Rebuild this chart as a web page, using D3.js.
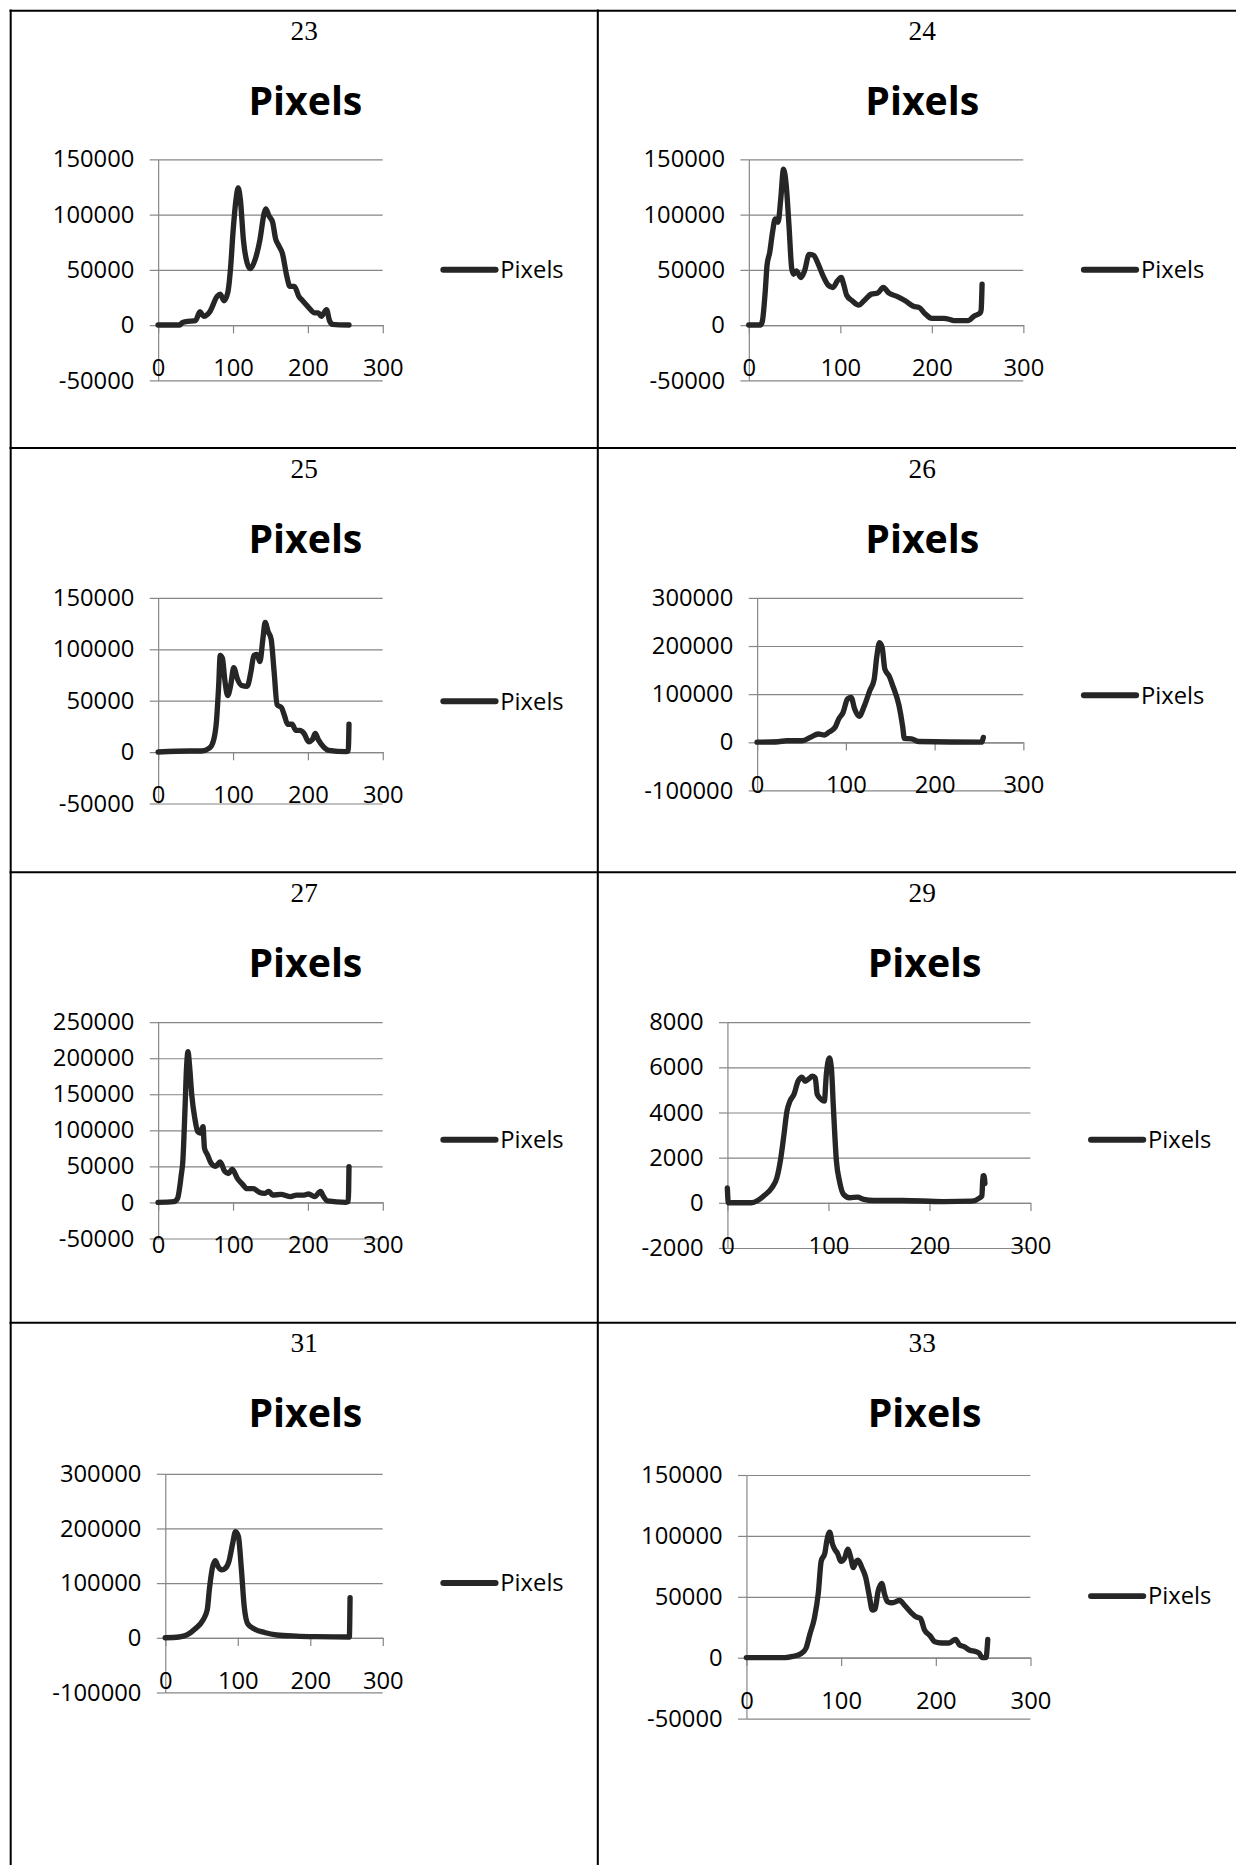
<!DOCTYPE html>
<html>
<head>
<meta charset="utf-8">
<script src="https://cdn.jsdelivr.net/npm/d3@7"></script>
<style>
  body { margin: 0; background: #fff; }
  svg { display: block; }
</style>
</head>
<body>
<div id="chart"></div>
<script>
// grey level -> pixel count
var lvl23 = [0,29,32,37,50,56,61,69,79,83,88,93,97,100,104,107,110,114,119,123,130,136,142,144,148,153,157,161,166,172,176,182,188,193,201,209,214,218,225,229,233,255];
var cnt23 = [0,0,2000,3000,4000,12000,8000,12000,26000,28000,22000,29000,53000,83000,113000,124000,113000,77000,56000,51000,60000,77000,102000,105000,99000,93000,78000,72000,65000,44000,35000,35000,26000,22000,16000,11000,11000,8000,14000,4000,600,0];

var lvl24 = [0,13,15,18,20,23,26,29,32,35,38,41,44,47,49,52,57,61,66,71,75,81,87,92,97,101,104,107,113,120,126,134,141,147,153,162,171,180,186,193,200,213,220,224,240,246,253,254,255];
var cnt24 = [0,0,4000,30000,54000,66000,84000,96000,93000,114000,141000,126000,90000,51000,46000,49000,43000,49000,64000,63000,57000,45000,36000,34000,40000,43000,36000,27000,22000,18000,22000,28000,29000,34000,29000,26000,22000,17000,16000,10000,6000,6000,5000,4000,4000,8000,11000,14000,37000];

var lvl25 = [0,42,58,69,74,78,81,83,86,89,93,97,101,106,111,119,124,128,132,136,140,143,147,151,155,159,165,169,173,179,184,189,195,201,206,210,214,221,228,251,254,255];
var cnt25 = [0,1000,1000,4000,11000,30000,65000,94000,91000,71000,55000,65000,82000,71000,65000,64000,78000,94000,95000,88000,110000,126000,117000,110000,78000,46000,43000,35000,27000,27000,21000,21000,18000,10000,12000,18000,12000,5000,1500,300,1000,27000];

var lvl26 = [0,24,33,51,60,69,76,81,88,92,97,102,106,110,115,121,127,132,135,138,141,144,149,153,160,164,166,174,182,253,255];
var cnt26 = [0,1000,3000,3000,10000,17000,15000,21000,31000,48000,62000,90000,93000,69000,54000,76000,107000,131000,179000,207000,197000,152000,137000,117000,76000,34000,8000,7000,1500,0,10000];

var lvl27 = [0,21,26,31,33,36,38,40,42,45,49,53,56,60,62,66,71,77,83,89,94,99,106,112,119,127,135,142,148,153,164,177,185,195,201,209,217,221,226,251,254,255];
var cnt27 = [0,1000,5500,38000,56000,130000,186000,209000,190000,149000,117000,98000,96000,105000,75000,66000,54000,50000,56000,43000,40000,46000,33000,26000,19000,19000,14000,12500,15000,10000,11000,8000,10000,10000,11500,8000,15000,8000,2000,0,1000,49500];

var lvl29 = [0,1,24,30,36,44,49,53,56,59,62,66,70,74,77,81,84,87,89,93,96,98,101,103,105,108,111,115,121,129,135,145,173,214,242,250,252,253,254,255];
var cnt29 = [660,0,0,100,300,660,1100,2000,3000,4050,4500,4800,5380,5560,5380,5500,5600,5530,4800,4570,4500,5680,6410,5970,4200,1840,960,370,220,250,150,100,100,50,70,220,300,1180,1200,850];

var lvl31 = [0,19,30,41,52,58,61,65,69,73,78,83,88,93,97,101,105,109,114,123,137,154,181,208,254,255];
var cnt31 = [0,1300,5000,16000,32000,51000,89000,127000,141000,130000,124000,127000,140000,172000,194000,185000,127000,57000,25000,16000,9500,5000,3000,2000,1300,73000];

var lvl33 = [0,41,49,58,63,67,72,76,79,83,85,88,91,94,96,100,104,107,110,113,116,118,122,126,130,133,136,139,143,146,149,154,162,167,174,178,184,188,194,199,206,214,221,225,230,236,242,246,249,253,255];
var cnt33 = [0,0,1000,3400,7700,19000,33000,53000,79000,86000,96000,103000,93000,88000,86000,79000,82000,89000,83000,74000,79000,80000,74000,66000,50000,39000,40000,54000,61000,52000,46000,45000,47000,43000,37000,34000,32000,23000,18000,13000,12000,12000,15000,10500,9000,6000,5000,3400,0,0,15000];

// tick labels
var xTicks = [0, 100, 200, 300];
var yTicks150 = [-50000, 0, 50000, 100000, 150000];
var yTicks300 = [-100000, 0, 100000, 200000, 300000];
var yTicks250 = [-50000, 0, 50000, 100000, 150000, 200000, 250000];
var yTicks8k = [-2000, 0, 2000, 4000, 6000, 8000];

var cellLabels = ["23", "24", "25", "26", "27", "29", "31", "33"];
var seriesName = "Pixels";

// drawing units: 1040 wide, scaled up to the 1236px page
var svg = d3.select("#chart").append("svg")
    .attr("width", 1236)
    .attr("height", 1865)
    .attr("viewBox", "0 0 1040 1569.25");

// table borders
var rowTops = [9, 377, 734, 1113];
svg.selectAll(".hrow").data(rowTops).enter().append("line")
    .attr("x1", 8).attr("x2", 1042)
    .attr("y1", d => d).attr("y2", d => d)
    .attr("stroke", "#000").attr("stroke-width", 1.7);
[9, 503].forEach(function (vx) {
  svg.append("line")
    .attr("x1", vx).attr("x2", vx)
    .attr("y1", 8).attr("y2", 1570)
    .attr("stroke", "#000").attr("stroke-width", 1.7);
});

var charts = [
  {lvl: lvl23, cnt: cnt23, yt: yTicks150, cx: 256, tx: 257, top: 9,    x0: 133, x1: 322, yb: 320,  yt0: 134,  lx: 373, ly: 227},
  {lvl: lvl24, cnt: cnt24, yt: yTicks150, cx: 776, tx: 776, top: 9,    x0: 630, x1: 861, yb: 320,  yt0: 134,  lx: 912, ly: 227},
  {lvl: lvl25, cnt: cnt25, yt: yTicks150, cx: 256, tx: 257, top: 377,  x0: 133, x1: 322, yb: 676,  yt0: 503,  lx: 373, ly: 590},
  {lvl: lvl26, cnt: cnt26, yt: yTicks300, cx: 776, tx: 776, top: 377,  x0: 637, x1: 861, yb: 665,  yt0: 503,  lx: 912, ly: 585},
  {lvl: lvl27, cnt: cnt27, yt: yTicks250, cx: 256, tx: 257, top: 734,  x0: 133, x1: 322, yb: 1042, yt0: 860,  lx: 373, ly: 959},
  {lvl: lvl29, cnt: cnt29, yt: yTicks8k,  cx: 776, tx: 778, top: 734,  x0: 612, x1: 867, yb: 1050, yt0: 860,  lx: 918, ly: 959},
  {lvl: lvl31, cnt: cnt31, yt: yTicks300, cx: 256, tx: 257, top: 1113, x0: 139, x1: 322, yb: 1424, yt0: 1240, lx: 373, ly: 1332},
  {lvl: lvl33, cnt: cnt33, yt: yTicks150, cx: 776, tx: 778, top: 1113, x0: 628, x1: 867, yb: 1446, yt0: 1241, lx: 918, ly: 1343}
];

var grid = "#868686";
var ink = "#262626";

charts.forEach(function (c, i) {
  var g = svg.append("g");

  // cell number
  g.append("text")
    .attr("x", c.cx).attr("y", c.top + 25)
    .attr("text-anchor", "middle")
    .style("font-family", "'Liberation Serif', 'Times New Roman', serif")
    .style("font-size", "23px")
    .text(cellLabels[i]);

  // chart title
  g.append("text")
    .attr("x", c.tx).attr("y", c.top + 88)
    .attr("text-anchor", "middle")
    .style("font-family", "'Open Sans', sans-serif")
    .style("font-weight", "bold")
    .style("font-size", "33px")
    .text(seriesName);

  var x = d3.scaleLinear().domain([0, 300]).range([c.x0, c.x1]);
  var y = d3.scaleLinear().domain(d3.extent(c.yt)).range([c.yb, c.yt0]);

  // gridlines
  g.append("g")
    .attr("transform", "translate(" + c.x0 + ",0)")
    .call(d3.axisLeft(y).tickValues(c.yt).tickSize(-(c.x1 - c.x0)).tickFormat(""))
    .call(a => a.select(".domain").remove())
    .selectAll("line").attr("stroke", grid);

  // y axis (plain hyphen for negatives, like the original)
  var ya = g.append("g")
    .attr("transform", "translate(" + c.x0 + ",0)")
    .call(d3.axisLeft(y).tickValues(c.yt).tickSize(7).tickSizeOuter(0).tickPadding(13).tickFormat(d => String(d)));
  ya.select(".domain").attr("stroke", grid);
  ya.selectAll("line").attr("stroke", grid);
  ya.selectAll("text")
    .attr("fill", "#000")
    .style("font-family", "'Open Sans', sans-serif")
    .style("font-size", "20px");

  // x axis crossing at 0
  var xa = g.append("g")
    .attr("transform", "translate(0," + y(0) + ")")
    .call(d3.axisBottom(x).tickValues(xTicks).tickSize(7).tickSizeOuter(0).tickFormat(d => String(d)));
  xa.select(".domain").attr("stroke", grid);
  xa.selectAll("line").attr("stroke", grid);
  xa.selectAll("text")
    .attr("y", 36).attr("dy", "0.35em")
    .attr("fill", "#000")
    .style("font-family", "'Open Sans', sans-serif")
    .style("font-size", "20px");

  // series line
  var pts = c.lvl.map((v, k) => [v, c.cnt[k]]);
  g.append("path")
    .datum(pts)
    .attr("fill", "none")
    .attr("stroke", ink)
    .attr("stroke-width", 4.5)
    .attr("stroke-linejoin", "round")
    .attr("stroke-linecap", "round")
    .attr("d", d3.line().x(d => x(d[0])).y(d => y(d[1])).curve(d3.curveMonotoneX));

  // legend
  g.append("line")
    .attr("x1", c.lx).attr("x2", c.lx + 44)
    .attr("y1", c.ly).attr("y2", c.ly)
    .attr("stroke", ink).attr("stroke-width", 5)
    .attr("stroke-linecap", "round");
  g.append("text")
    .attr("x", c.lx + 48).attr("y", c.ly)
    .attr("dy", "0.35em")
    .style("font-family", "'Open Sans', sans-serif")
    .style("font-size", "20px")
    .text(seriesName);
});
</script>
</body>
</html>
